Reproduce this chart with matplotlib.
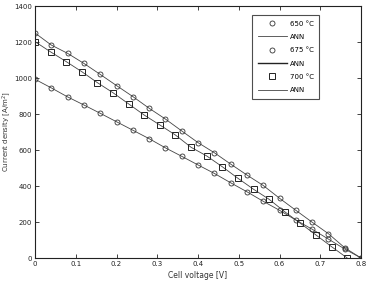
import numpy as np
import matplotlib
matplotlib.use('Agg')
import matplotlib.pyplot as plt
from matplotlib.lines import Line2D

# cell voltage [V] for each series
v_650 = np.round(np.arange(21) * 0.04, 4)
v_675 = np.round(np.arange(21) * 0.04, 4)
v_700 = np.round(np.arange(21) * 0.0383, 4)

# current density [A/m2]
i_650 = [993, 945, 895, 850, 804, 757, 710, 663, 612, 565, 517,
         470, 418, 368, 315, 265, 211, 160, 105, 50, 0]
i_675 = [1250, 1183, 1137, 1081, 1020, 958, 897, 832, 772, 706, 641,
         585, 522, 461, 403, 332, 265, 199, 135, 57, 0]
i_700 = [1202, 1145, 1091, 1035, 974, 918, 856, 794, 739, 683, 615,
         567, 507, 443, 382, 326, 257, 193, 128, 63, 0]

x_ticks = [0, 0.1, 0.2, 0.3, 0.4, 0.5, 0.6, 0.7, 0.8]
x_tick_labels = ['0', '0.1', '0.2', '0.3', '0.4', '0.5', '0.6', '0.7', '0.8']
y_ticks = [0, 200, 400, 600, 800, 1000, 1200, 1400]

fig = plt.figure(figsize=(3.67, 2.82), dpi=100)
ax = fig.add_axes([0.0954, 0.0851, 0.8883, 0.8936])

line_col = '#444444'
mk_col = '#333333'

ax.plot(v_650, i_650, '-', color=line_col, lw=0.6, zorder=2)
ax.plot(v_650, i_650, 'o', mfc='none', mec=mk_col, mew=0.6, ms=3.6, zorder=3)
ax.plot(v_675, i_675, '-', color=line_col, lw=0.6, zorder=2)
ax.plot(v_675, i_675, 'o', mfc='none', mec=mk_col, mew=0.6, ms=3.6, zorder=3)
ax.plot(v_700, i_700, '-', color=line_col, lw=0.6, zorder=2)
ax.plot(v_700, i_700, 's', mfc='none', mec='#222222', mew=0.7, ms=4.0, zorder=3)

ax.set_xlim(0, 0.8)
ax.set_ylim(0, 1400)
ax.set_xticks(x_ticks)
ax.set_xticklabels(x_tick_labels)
ax.set_yticks(y_ticks)
ax.tick_params(direction='in', length=3, width=0.6, labelsize=5,
               top=True, right=True, pad=2, colors='#222222')
for sp in ax.spines.values():
    sp.set_linewidth(0.8)
    sp.set_color('#222222')

ax.set_xlabel('Cell voltage [V]', fontsize=5.5, labelpad=3, color='#333333')
ax.set_ylabel('Current density [A/m$^2$]', fontsize=5, labelpad=1, color='#333333')

handles = [
    Line2D([], [], ls='none', marker='o', mfc='none', mec=mk_col, mew=0.6, ms=3.6),
    Line2D([], [], ls='-', color=line_col, lw=0.6),
    Line2D([], [], ls='none', marker='o', mfc='none', mec=mk_col, mew=0.6, ms=3.6),
    Line2D([], [], ls='-', color='#222222', lw=1.0),
    Line2D([], [], ls='none', marker='s', mfc='none', mec='#222222', mew=0.7, ms=4.0),
    Line2D([], [], ls='-', color=line_col, lw=0.6),
]
labels = ['650 °C', 'ANN', '675 °C', 'ANN', '700 °C', 'ANN']
leg = ax.legend(handles, labels, loc='upper left', bbox_to_anchor=(0.666, 0.964),
                fontsize=5, frameon=True, fancybox=False, handlelength=4.2,
                handletextpad=0.4, labelspacing=1.05, borderpad=0.8,
                borderaxespad=0)
leg.get_frame().set_edgecolor('#222222')
leg.get_frame().set_linewidth(0.8)

fig.savefig('out.png', dpi=100, facecolor='white')
